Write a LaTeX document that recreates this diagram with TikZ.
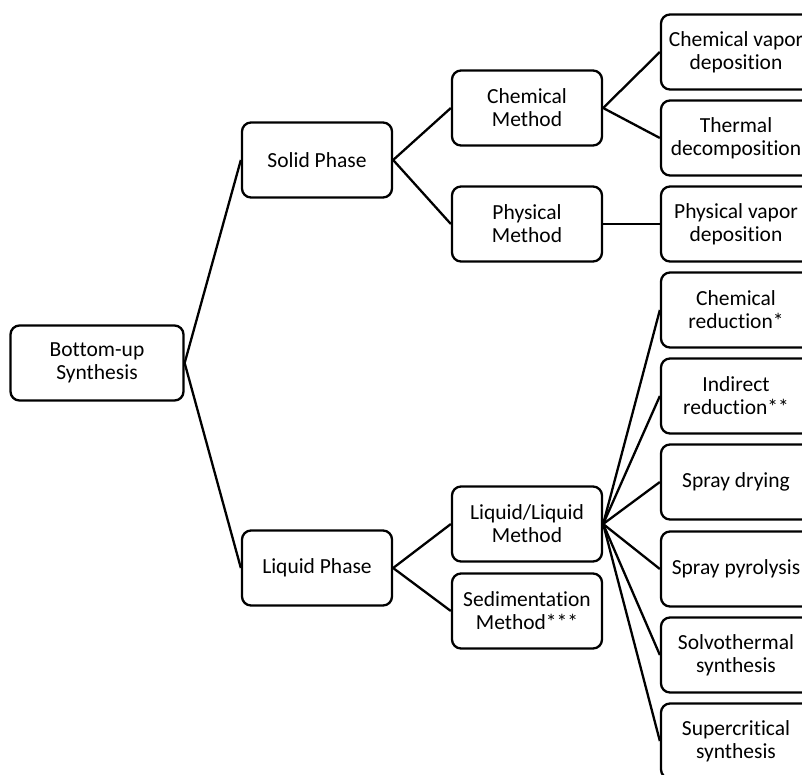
\documentclass[tikz,border=0pt]{standalone}
\usepackage{fontspec}
\setmainfont{Carlito}[Ligatures={NoCommon}]
\tikzset{box/.style = {shape=rectangle,draw,rounded corners=9pt,line width=2.3pt,minimum width=150pt,minimum height=75pt,align=center,inner sep=2pt}}
\tikzset{link/.style = {line width=2.3pt}}

\begin{document}
\begin{tikzpicture}[x=1pt,y=-1pt,font=\fontsize{21.5}{23}\selectfont]
  \useasboundingbox (0,0) rectangle (802,774);
  \clip (0,0) rectangle (802,774);
  \node[box,minimum width=173pt] (bu) at (97, 363) {Bottom-up\\Synthesis};
  \node[box] (solid) at (317, 160) {Solid Phase};
  \node[box] (liquid) at (317, 568) {Liquid Phase};
  \node[box] (chem) at (527, 108) {Chemical\\Method};
  \node[box] (phys) at (527, 224) {Physical\\Method};
  \node[box] (liqliq) at (527, 524) {Liquid/Liquid\\Method};
  \node[box] (sed) at (527, 611) {Sedimentation\\Method***};
  \node[box] (cvd) at (736, 52) {Chemical vapor\\deposition};
  \node[box] (therm) at (736, 138) {Thermal\\decomposition};
  \node[box] (pvd) at (736, 224) {Physical vapor\\deposition};
  \node[box] (chemred) at (736, 310) {Chemical\\reduction*};
  \node[box] (indred) at (736, 396) {Indirect\\reduction**};
  \node[box] (sdry) at (736, 482) {Spray drying};
  \node[box] (spyr) at (736, 569) {Spray pyrolysis};
  \node[box] (solvo) at (736, 655) {Solvothermal\\synthesis};
  \node[box] (super) at (736, 741) {Supercritical\\synthesis};

  \path[link] (bu.east) edge (solid.west);
  \path[link] (bu.east) edge (liquid.west);
  \path[link] (solid.east) edge (chem.west);
  \path[link] (solid.east) edge (phys.west);
  \path[link] (chem.east) edge (cvd.west);
  \path[link] (chem.east) edge (therm.west);
  \path[link] (phys.east) edge (pvd.west);
  \path[link] (liquid.east) edge (liqliq.west);
  \path[link] (liquid.east) edge (sed.west);
  \path[link] (liqliq.east) edge (chemred.west);
  \path[link] (liqliq.east) edge (indred.west);
  \path[link] (liqliq.east) edge (sdry.west);
  \path[link] (liqliq.east) edge (spyr.west);
  \path[link] (liqliq.east) edge (solvo.west);
  \path[link] (liqliq.east) edge (super.west);
\end{tikzpicture}
\end{document}
